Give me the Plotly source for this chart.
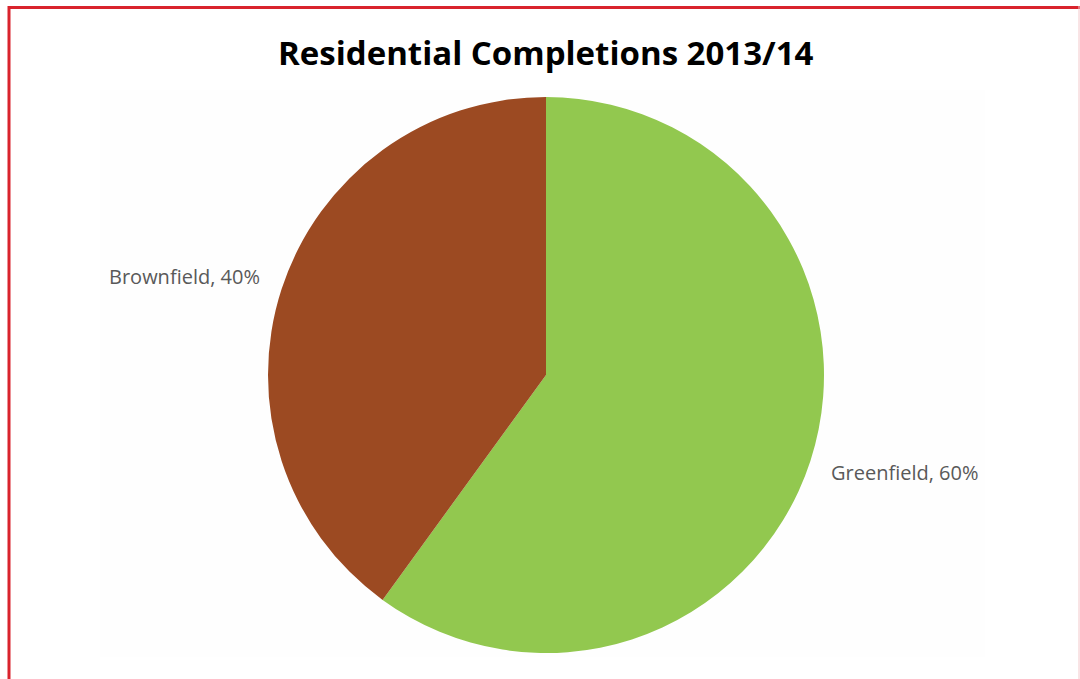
import plotly.graph_objects as go

categories = ["Greenfield", "Brownfield"]
values = [60, 40]
colors = ["#92C84F", "#9C4A22"]
title_text = "Residential Completions 2013/14"

W, H = 1080, 679
cx, cy, r = 546, 375, 278

fig = go.Figure(go.Pie(
    labels=categories,
    values=values,
    sort=False,
    direction="clockwise",
    rotation=0,
    marker=dict(colors=colors, line=dict(width=0)),
    textinfo="none",
    hoverinfo="label+percent",
    showlegend=False,
    domain=dict(x=[(cx - r) / W, (cx + r) / W], y=[(H - cy - r) / H, (H - cy + r) / H]),
))

label_font = dict(family="Open Sans, Noto Sans, sans-serif", size=20, color="#595959")
annotations = [
    dict(text=f"{categories[1]}, {values[1]}%", x=107 / W, y=1 - 276 / H, xanchor="left", yanchor="middle"),
    dict(text=f"{categories[0]}, {values[0]}%", x=829 / W, y=1 - 472 / H, xanchor="left", yanchor="middle"),
    dict(text=f"<b>{title_text}</b>", x=546 / W, y=1 - 53 / H, xanchor="center", yanchor="middle",
         font=dict(family="Open Sans, sans-serif", size=33, color="#000000")),
]
for a in annotations:
    a.update(xref="paper", yref="paper", showarrow=False)
    if "font" not in a:
        a["font"] = label_font

shapes = [
    dict(type="rect", x0=100 / W, x1=985 / W, y0=1 - 657 / H, y1=1 - 90 / H,
         fillcolor="#fefefe", line=dict(width=0), layer="below"),
    dict(type="line", x0=8 / W, x1=1080 / W, y0=1 - 7.5 / H, y1=1 - 7.5 / H,
         line=dict(color="#D9232D", width=3)),
    dict(type="line", x0=9 / W, x1=9 / W, y0=0, y1=1 - 6 / H,
         line=dict(color="#D9232D", width=3)),
    dict(type="line", x0=1079 / W, x1=1079 / W, y0=0, y1=1 - 6 / H,
         line=dict(color="#F2C8CB", width=1)),
]
for s in shapes:
    s.update(xref="paper", yref="paper")

fig.update_layout(
    width=W, height=H,
    margin=dict(l=0, r=0, t=0, b=0),
    paper_bgcolor="white",
    plot_bgcolor="white",
    annotations=annotations,
    shapes=shapes,
)

fig.write_html("out.html")
